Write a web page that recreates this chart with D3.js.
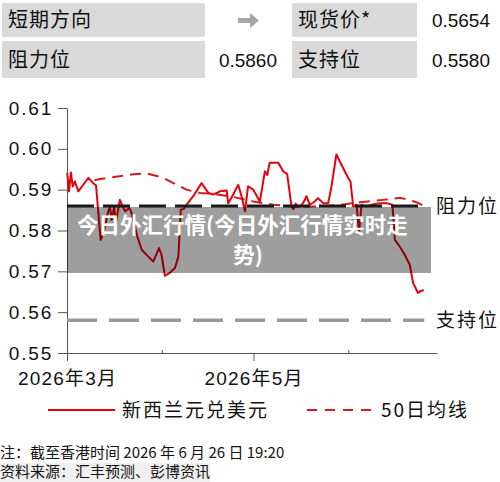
<!DOCTYPE html>
<html>
<head>
<meta charset="utf-8">
<script src="https://cdn.jsdelivr.net/npm/d3@7"></script>
<style>
  html, body { margin: 0; padding: 0; background: #fff; }
  svg { display: block; }
  .num { font-family: "Liberation Sans", Arial, "Noto Sans CJK SC", sans-serif; }
  .cjk { font-family: "Noto Sans CJK SC", "Liberation Sans", sans-serif; }
</style>
</head>
<body>
<div id="chart"></div>
<script>
// header panel
const headerLabels = [["短期方向", "现货价*"], ["阻力位", "支持位"]];
const headerValues = [["", "0.5654"], ["0.5860", "0.5580"]];

// NZD/USD
const nzdDates = [
  "03-01T02", "03-01T16", "03-02T07", "03-02T21", "03-03T14", "03-04T17", "03-06T07", "03-08T00",
  "03-09T14", "03-10T12", "03-12T00", "03-12T22", "03-14T12", "03-15T01", "03-15T14", "03-16T10",
  "03-17T00", "03-18T07", "03-18T21", "03-20T00", "03-21T10", "03-22T03", "03-24T00", "03-25T10",
  "03-27T14", "03-29T05", "03-31T02", "03-31T22", "04-02T00", "04-03T17", "04-05T07", "04-06T10",
  "04-07T05", "04-08T05", "04-09T02", "04-11T07", "04-14T00", "04-16T05", "04-17T19", "04-20T00",
  "04-22T05", "04-22T17", "04-23T19", "04-26T00", "04-27T02", "04-28T05", "04-29T05", "04-30T22",
  "05-03T02", "05-04T17", "05-05T12", "05-06T07", "05-09T02", "05-10T17", "05-12T00", "05-13T10",
  "05-14T00", "05-14T19", "05-15T14", "05-16T17", "05-17T19", "05-18T07", "05-19T10", "05-21T00",
  "05-22T02", "05-23T19", "05-25T10", "05-26T12", "05-28T02", "05-30T07", "05-31T22", "06-01T17",
  "06-02T14", "06-03T17", "06-04T12", "06-05T07", "06-06T22", "06-08T14", "06-11T07", "06-13T12",
  "06-15T10", "06-16T05", "06-17T19", "06-19T12", "06-21T02", "06-22T05", "06-23T19", "06-24T17",
  "06-25T17"
];
const nzdValues = [
  0.5941, 0.5896, 0.5942, 0.5908, 0.5920, 0.5896, 0.5912, 0.5929,
  0.5916, 0.5910, 0.5777, 0.5794, 0.5847, 0.5858, 0.5826, 0.5858,
  0.5819, 0.5875, 0.5865, 0.5847, 0.5855, 0.5843, 0.5785, 0.5753,
  0.5736, 0.5724, 0.5757, 0.5740, 0.5689, 0.5697, 0.5708, 0.5736,
  0.5851, 0.5853, 0.5863, 0.5884, 0.5916, 0.5892, 0.5888, 0.5896,
  0.5898, 0.5867, 0.5880, 0.5912, 0.5884, 0.5847, 0.5908, 0.5900,
  0.5871, 0.5945, 0.5936, 0.5966, 0.5966, 0.5945, 0.5938, 0.5859,
  0.5852, 0.5866, 0.5858, 0.5862, 0.5875, 0.5884, 0.5863, 0.5871,
  0.5879, 0.5867, 0.5867, 0.5908, 0.5986, 0.5953, 0.5929, 0.5920,
  0.5859, 0.5863, 0.5794, 0.5863, 0.5859, 0.5863, 0.5867, 0.5867,
  0.5863, 0.5777, 0.5761, 0.5740, 0.5716, 0.5671, 0.5647, 0.5652,
  0.5654
];

// 50-day moving average
const maDates = [
  "03-10T00", "03-11T19", "03-22T17", "03-27T00", "04-01T12", "04-04T19", "04-09T02", "04-13T12",
  "04-17T19", "04-24T10", "04-30T22", "05-07T12", "05-14T00", "05-22T17", "05-29T07", "06-04T19",
  "06-12T10", "06-17T22", "06-21T05", "06-23T22", "06-25T12"
];
const maValues = [
  0.5923, 0.5926, 0.5938, 0.5940, 0.5929, 0.5916, 0.5900, 0.5892,
  0.5890, 0.5882, 0.5871, 0.5863, 0.5859, 0.5859, 0.5863, 0.5869,
  0.5875, 0.5880, 0.5875, 0.5867, 0.5861
];

const resistance = 0.5860;
const support = 0.5580;
const levelSpan = ["03-01T00", "06-25T20"];
const yTicks = [0.55, 0.56, 0.57, 0.58, 0.59, 0.60, 0.61];
const xTicks = ["03-01T00", "04-01T00", "05-01T00", "06-01T00"];
const xDomain = ["03-01T00", "06-30T00"];
const seriesNames = ["新西兰元兑美元", "50日均线"];
const levelNames = ["阻力位", "支持位"];
const watermark = ["今日外汇行情(今日外汇行情实时走", "势)"];
const notes = ["注：截至香港时间 2026 年 6 月 26 日 19:20", "资料来源：汇丰预测、彭博资讯"];

const parse = d3.timeParse("%Y-%m-%dT%H");
const day = (s) => parse("2026-" + s);

const width = 500, height = 482;
const svg = d3.select("#chart").append("svg")
  .attr("width", width).attr("height", height);

// ---- header boxes
const rowY = [3, 41], rowH = [34, 37];
headerLabels.forEach((row, r) => {
  [[2, 203], [292, 125]].forEach(([bx, bw], c) => {
    svg.append("rect").attr("x", bx).attr("y", rowY[r]).attr("width", bw).attr("height", rowH[r])
      .attr("fill", "#d9d9d9");
    svg.append("text").attr("class", "cjk")
      .attr("x", bx + 6).attr("y", rowY[r] + rowH[r] / 2 + 7)
      .attr("font-size", 20).attr("letter-spacing", 1).attr("fill", "#111")
      .text(row[c]);
  });
  headerValues[r].forEach((v, c) => {
    if (!v) return;
    svg.append("text").attr("class", "num")
      .attr("x", c === 0 ? 277 : 490).attr("y", rowY[r] + rowH[r] / 2 + 7)
      .attr("text-anchor", "end").attr("font-size", 19).attr("fill", "#111")
      .text(v);
  });
});
// direction arrow
svg.append("path")
  .attr("d", "M238,18 L250,18 L250,13 L259,20.5 L250,28 L250,23 L238,23 Z")
  .attr("fill", "#a6a6a6");

// ---- scales
const x = d3.scaleTime().domain(xDomain.map(day)).range([67, 437]);
const y = d3.scaleLinear().domain([0.55, 0.61]).range([353, 108]);

// y axis
const yAxis = svg.append("g").attr("transform", "translate(67,0)")
  .call(d3.axisLeft(y).tickValues(yTicks).tickFormat(d3.format(".2f"))
    .tickSize(9).tickSizeOuter(0).tickPadding(5));
yAxis.select(".domain").attr("stroke", "#555").attr("stroke-width", 1);
yAxis.selectAll(".tick line").attr("stroke", "#555");
yAxis.selectAll("text").attr("class", "num").attr("font-size", 19)
  .attr("letter-spacing", 1.8).attr("fill", "#111");

// x axis
const xAxis = svg.append("g").attr("transform", "translate(0,353)")
  .call(d3.axisBottom(x).tickValues(xTicks.map(day)).tickSize(0).tickSizeOuter(0)
    .tickFormat((d, i) => i % 2 === 0 ? d3.timeFormat("%Y年%-m月")(d) : ""));
xAxis.select(".domain").attr("stroke", "#555");
xAxis.selectAll(".tick line")
  .attr("stroke", "#555")
  .attr("y1", (d, i) => i % 2 === 0 ? 0 : -3)
  .attr("y2", (d, i) => i % 2 === 0 ? 8 : 0);
xAxis.selectAll("text").attr("class", "num").attr("font-size", 19)
  .attr("letter-spacing", 1.2).attr("fill", "#111").attr("dy", 0).attr("y", 32);

// ---- level lines
const levelLine = (v) => levelSpan.map((s) => [x(day(s)), y(v)]);
svg.append("path").attr("d", d3.line()(levelLine(support)))
  .attr("stroke", "#999").attr("stroke-width", 3.5).attr("stroke-dasharray", "30,12").attr("fill", "none");

// ---- series
const nzd = nzdDates.map((d, i) => ({ date: day(d), value: nzdValues[i] }));
const ma = maDates.map((d, i) => ({ date: day(d), value: maValues[i] }));
const line = d3.line().x((d) => x(d.date)).y((d) => y(d.value));

svg.append("path").datum(ma).attr("d", line)
  .attr("fill", "none").attr("stroke", "#d7191c").attr("stroke-width", 2)
  .attr("stroke-dasharray", "11,7");
svg.append("path").datum(nzd).attr("d", line)
  .attr("fill", "none").attr("stroke", "#e8000b").attr("stroke-width", 2)
  .attr("stroke-linejoin", "round");
svg.append("path").attr("d", d3.line()(levelLine(resistance)))
  .attr("stroke", "#1a1a1a").attr("stroke-width", 3).attr("stroke-dasharray", "27,9").attr("fill", "none");

// level labels
[resistance, support].forEach((v, i) => {
  svg.append("text").attr("class", "cjk")
    .attr("x", 436).attr("y", y(v) + 7)
    .attr("font-size", 19).attr("letter-spacing", 2).attr("fill", "#111")
    .text(levelNames[i]);
});

// ---- watermark overlay
svg.append("rect").attr("x", 67).attr("y", 207).attr("width", 364).attr("height", 66)
  .attr("fill", "#000").attr("opacity", 0.38);
svg.append("text").attr("class", "cjk")
  .attr("x", 77).attr("y", 233).attr("font-size", 21.5).attr("font-weight", "bold")
  .attr("fill", "#fff").text(watermark[0]);
svg.append("text").attr("class", "cjk")
  .attr("x", 248).attr("y", 263).attr("text-anchor", "middle")
  .attr("font-size", 21.5).attr("font-weight", "bold").attr("fill", "#fff").text(watermark[1]);

// ---- legend
svg.append("line").attr("x1", 48).attr("x2", 115).attr("y1", 410).attr("y2", 410)
  .attr("stroke", "#e8000b").attr("stroke-width", 2);
svg.append("text").attr("class", "cjk").attr("x", 122).attr("y", 417)
  .attr("font-size", 19).attr("letter-spacing", 2).attr("fill", "#111").text(seriesNames[0]);
svg.append("line").attr("x1", 307).attr("x2", 371).attr("y1", 410).attr("y2", 410)
  .attr("stroke", "#d7191c").attr("stroke-width", 2).attr("stroke-dasharray", "10,8");
svg.append("text").attr("class", "cjk").attr("x", 381).attr("y", 417)
  .attr("font-size", 19).attr("letter-spacing", 2).attr("fill", "#111").text(seriesNames[1]);

// ---- notes
svg.append("rect").attr("x", 0).attr("y", 463).attr("width", 210).attr("height", 19)
  .attr("fill", "#efefef");
notes.forEach((t, i) => {
  svg.append("text").attr("class", "cjk")
    .attr("x", 0).attr("y", 458 + i * 19)
    .attr("font-size", 15).attr("fill", "#111").text(t);
});
</script>
</body>
</html>
